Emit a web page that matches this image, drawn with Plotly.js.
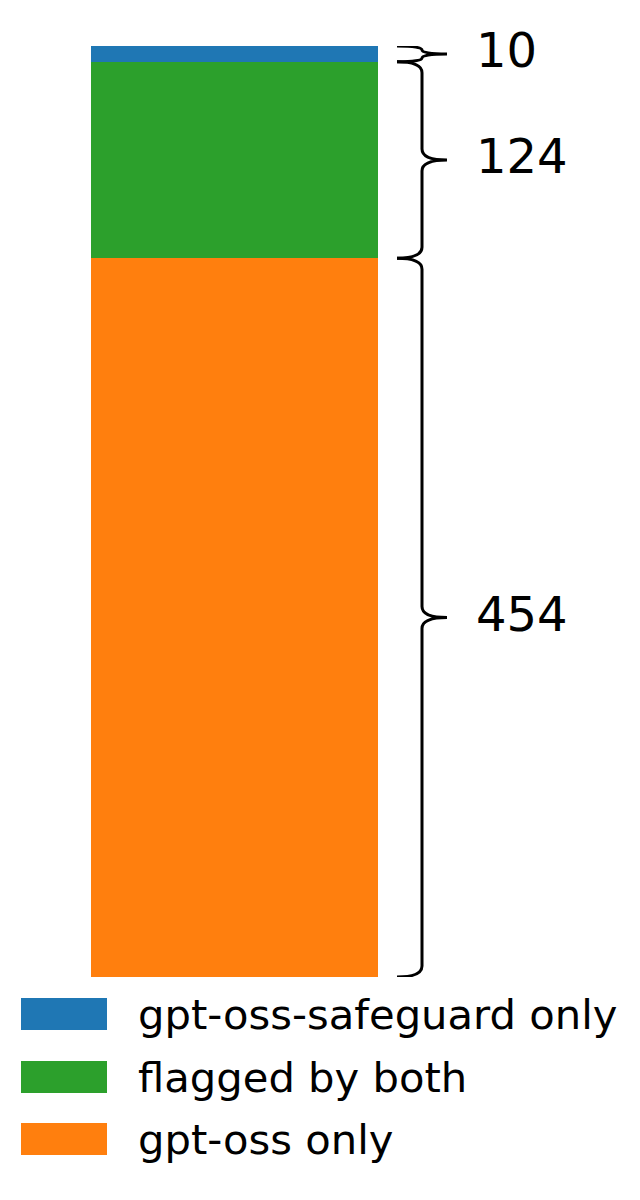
<!DOCTYPE html>
<html>
<head>
<meta charset="utf-8">
<script src="https://cdn.plot.ly/plotly-3.0.1.min.js"></script>
<style>
  body { margin: 0; background: #fff; }
  #graph-container { width: 640px; height: 1200px; }
</style>
</head>
<body>
<div id="graph-container"></div>
<script>
// data, top of the stack first (legend order)
var categories = ["gpt-oss-safeguard only", "flagged by both", "gpt-oss only"];
var counts = [10, 124, 454];
var colors = ["#1f77b4", "#2ca02c", "#ff7f0e"];

var W = 640, H = 1200;
var mTop = 46, mBot = 223;
var plotH = H - mTop - mBot;

// bar spans pixels 91..378, one data unit wide centred on 0
var pxPerUnit = 287;
var xMin = -0.5 - 91 / pxPerUnit;
var xMax = xMin + W / pxPerUnit;
function xFromPx(px){ return xMin + px / pxPerUnit; }
function paperY(py){ return (H - mBot - py) / plotH; }

var total = 0;
for(var i=0; i<counts.length; i++) total += counts[i];
var unitsPerPx = total / plotH;

// stacked traces, bottom first
var data = [];
for(var i=counts.length-1; i>=0; i--){
  data.push({
    type: 'bar',
    x: [0],
    y: [counts[i]],
    width: 1,
    name: categories[i],
    marker: {color: colors[i], line: {width: 0}},
    showlegend: false,
    hoverinfo: 'skip'
  });
}

// curly brace path between y0 (bottom) and y1 (top), in data coords
function bracePath(y0, y1){
  var xt = xFromPx(397), xs = xFromPx(422), xm = xFromPx(447);
  var ym = (y0 + y1) / 2;
  var r = Math.min(11 * unitsPerPx, (y1 - y0) / 4);
  var p = "M " + xt + "," + y1;
  p += " Q " + xs + "," + y1 + " " + xs + "," + (y1 - r);
  p += " L " + xs + "," + (ym + r);
  p += " Q " + xs + "," + ym + " " + xm + "," + ym;
  p += " Q " + xs + "," + ym + " " + xs + "," + (ym - r);
  p += " L " + xs + "," + (y0 + r);
  p += " Q " + xs + "," + y0 + " " + xt + "," + y0;
  return p;
}

var shapes = [];
var annotations = [];
var base = 0;
for(var i=counts.length-1; i>=0; i--){
  var segTop = base + counts[i];
  shapes.push({
    type: 'path', xref: 'x', yref: 'y',
    path: bracePath(base, segTop),
    line: {color: '#000', width: 3},
    layer: 'above'
  });
  annotations.push({
    xref: 'x', yref: 'y',
    x: xFromPx(474), y: (base + segTop) / 2,
    xanchor: 'left', yanchor: 'middle',
    yshift: 4,
    text: String(counts[i]),
    showarrow: false,
    font: {size: 48, color: '#000', family: 'DejaVu Sans'}
  });
  base = segTop;
}

// hand-made legend under the bar
var legTop = [998, 1061, 1123];
for(var i=0; i<categories.length; i++){
  shapes.push({
    type: 'rect', xref: 'paper', yref: 'paper',
    x0: 21 / W, x1: 107 / W,
    y0: paperY(legTop[i] + 32), y1: paperY(legTop[i]),
    fillcolor: colors[i], line: {width: 0}
  });
  annotations.push({
    xref: 'paper', yref: 'paper',
    x: 136 / W, y: paperY(legTop[i] + 16),
    xanchor: 'left', yanchor: 'middle',
    text: categories[i],
    showarrow: false,
    font: {size: 41.7, color: '#000', family: 'DejaVu Sans'}
  });
}

var layout = {
  width: W, height: H,
  margin: {l: 0, r: 0, t: mTop, b: mBot, pad: 0},
  barmode: 'stack',
  bargap: 0,
  paper_bgcolor: '#fff',
  plot_bgcolor: '#fff',
  xaxis: {range: [xMin, xMax], visible: false, fixedrange: true},
  yaxis: {range: [0, total], visible: false, fixedrange: true},
  shapes: shapes,
  annotations: annotations,
  showlegend: false
};

Plotly.newPlot(document.getElementById("graph-container"), data, layout, {staticPlot: true});
</script>
</body>
</html>
